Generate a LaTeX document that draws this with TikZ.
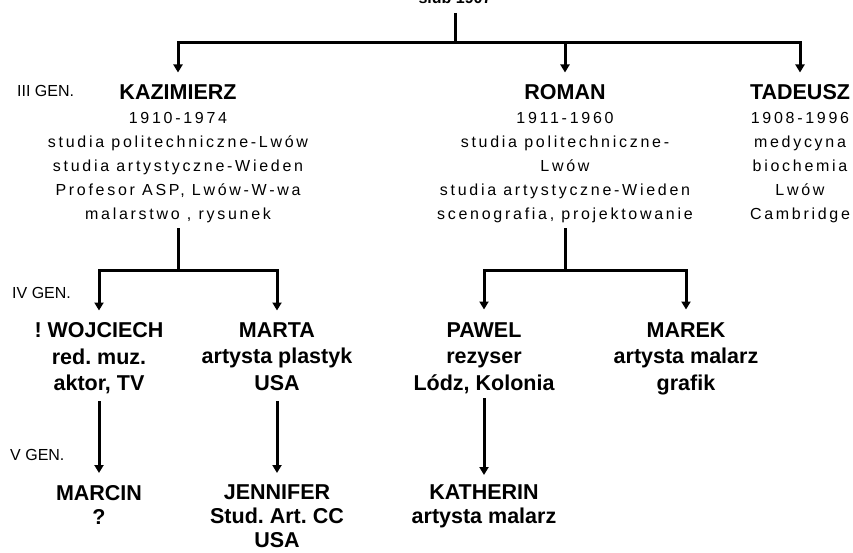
\documentclass[tikz,border=0pt]{standalone}
\usepackage{fontspec}
\setmainfont{Liberation Sans}
\newfontfamily\spacedsans[LetterSpace=17]{Liberation Sans}
\usetikzlibrary{arrows.meta}
\newcommand\pname[1]{{\rmfamily\bfseries\fontsize{21.5}{24}\selectfont #1}}
\frenchspacing
\begin{document}
\begin{tikzpicture}[x=1pt,y=-1pt,
 conn/.style={line width=3pt},
 arr/.style={line width=3pt,-{Triangle[width=9pt,length=8pt]}},
 gthree/.style={align=center,inner sep=0pt,anchor=north,font=\fontsize{16}{24}\selectfont\spacedsans\frenchspacing},
 gfour/.style={align=center,inner sep=0pt,anchor=north,font=\fontsize{21.5}{26.5}\selectfont\bfseries\frenchspacing},
 gfive/.style={gfour,font=\fontsize{21.5}{24}\selectfont\bfseries\frenchspacing},
 genlab/.style={anchor=base west,inner sep=0pt,font=\fontsize{16}{19}\selectfont}]
\useasboundingbox (0,0) rectangle (853,553);
\begin{scope}
\clip (0,0) rectangle (853,553);
\node[anchor=base,inner sep=0pt,font=\fontsize{16}{19}\selectfont\bfseries] (toptxt) at (455,4) {ślub 1907};
\end{scope}
% generation labels
\node[genlab] (glthree) at (17,97) {III GEN.};
\node[genlab] (glfour) at (12,298) {IV GEN.};
\node[genlab] (glfive) at (10,460) {V GEN.};
% generation III
\node[gthree] (kaz) at (178,84.5) {\pname{KAZIMIERZ}\\1910-1974\\studia politechniczne-Lwów\\studia artystyczne-Wieden\\Profesor ASP, Lwów-W-wa\\malarstwo , rysunek};
\node[gthree] (rom) at (565,84.5) {\pname{ROMAN}\\1911-1960\\studia politechniczne-\\Lwów\\studia artystyczne-Wieden\\scenografia, projektowanie};
\node[gthree] (tad) at (800,84.5) {\pname{TADEUSZ}\\1908-1996\\medycyna\\biochemia\\Lwów\\Cambridge};
% generation IV
\node[gfour] (woj) at (99,322.5) {! WOJCIECH\\red. muz.\\aktor, TV};
\node[gfour] (mar) at (277,322.5) {MARTA\\artysta plastyk\\USA};
\node[gfour] (paw) at (484,322.5) {PAWEL\\rezyser\\Lódz, Kolonia};
\node[gfour] (mrk) at (686,322.5) {MAREK\\artysta malarz\\grafik};
% generation V
\node[gfive] (mcn) at (99,485) {MARCIN\\?};
\node[gfive] (jen) at (277,485) {JENNIFER\\Stud. Art. CC\\USA};
\node[gfive] (kat) at (484,485) {KATHERIN\\artysta malarz};
% connectors
\coordinate (top) at (455,13);
\coordinate (jone) at (455,43);
\coordinate (kj) at (178,270);
\coordinate (rj) at (565,270);
\draw[conn] (top) -- (jone);
\draw[arr,shorten >=12pt] (jone) -| (kaz.north);
\draw[arr,shorten >=12pt] (jone) -| (rom.north);
\draw[arr,shorten >=12pt] (jone) -| (tad.north);
\draw[conn,shorten <=5pt] (kaz.south) -- (kj);
\draw[conn,shorten <=5pt] (rom.south) -- (rj);
\draw[arr,shorten >=12pt] (kj) -| (woj.north);
\draw[arr,shorten >=12pt] (kj) -| (mar.north);
\draw[arr,shorten >=13pt] (rj) -| (paw.north);
\draw[arr,shorten >=13pt] (rj) -| (mrk.north);
\draw[arr,shorten <=7pt,shorten >=12pt] (woj.south) -- (mcn.north);
\draw[arr,shorten <=10pt,shorten >=12pt] (mar.south) -- (jen.north);
\draw[arr,shorten <=4pt,shorten >=10pt] (paw.south) -- (kat.north);
\end{tikzpicture}
\end{document}
